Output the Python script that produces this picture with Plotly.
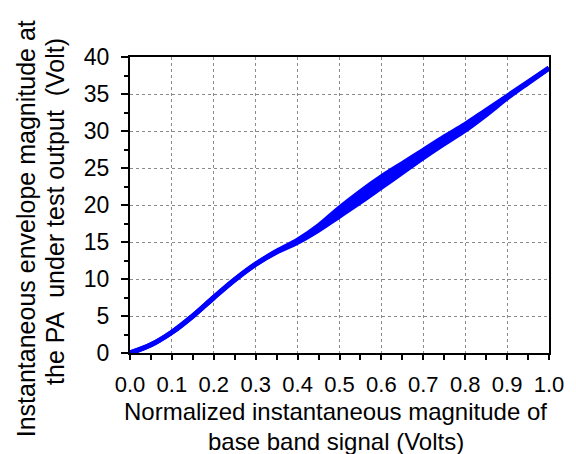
import plotly.graph_objects as go

# Normalized instantaneous magnitude (x) and envelope band (upper / lower), Volt
x_vals = [0.0, 0.05, 0.1, 0.15, 0.2, 0.25, 0.3, 0.35, 0.4, 0.45, 0.5,
          0.55, 0.6, 0.65, 0.7, 0.75, 0.8, 0.85, 0.9, 0.95, 1.0]
upper_vals = [0.0, 1.1, 2.8, 5.0, 7.5, 9.9, 12.0, 13.75, 15.25, 17.2, 19.6,
              21.8, 23.8, 25.6, 27.4, 29.2, 30.9, 32.8, 34.7, 36.6, 38.5]
lower_vals = [0.0, 1.1, 2.8, 5.0, 7.5, 9.9, 12.0, 13.65, 14.95, 16.6, 18.5,
              20.4, 22.4, 24.4, 26.4, 28.3, 30.1, 32.2, 34.45, 36.5, 38.5]

x_ticks = [0.0, 0.1, 0.2, 0.3, 0.4, 0.5, 0.6, 0.7, 0.8, 0.9, 1.0]
y_ticks = [0, 5, 10, 15, 20, 25, 30, 35, 40]

BLUE = "#0000ff"
FONT = "Liberation Sans, Arial, sans-serif"

fig = go.Figure()
fig.add_trace(go.Scatter(x=x_vals, y=lower_vals, mode="lines",
                         line=dict(color=BLUE, width=5, shape="spline", smoothing=1.0),
                         showlegend=False, hoverinfo="skip"))
fig.add_trace(go.Scatter(x=x_vals, y=upper_vals, mode="lines",
                         line=dict(color=BLUE, width=5, shape="spline", smoothing=1.0),
                         fill="tonexty", fillcolor=BLUE,
                         showlegend=False, hoverinfo="skip"))

W, H = 576, 454
L, R, T, B = 130, 22, 57, 101
pw, ph = W - L - R, H - T - B

def px_to_paper_x(px):
    return (px - L) / pw

def px_to_paper_y(py):
    return (H - B - py) / ph

fig.update_layout(
    width=W, height=H,
    margin=dict(l=L, r=R, t=T, b=B, pad=0),
    paper_bgcolor="white", plot_bgcolor="white",
    font=dict(family=FONT, size=22, color="black"),
    xaxis=dict(range=[0, 1], tickvals=x_ticks, tickformat=".1f",
               ticks="outside", ticklen=5, tickwidth=2, tickcolor="black",
               minor=dict(dtick=0.05, ticks="outside", ticklen=5, tickwidth=2,
                          tickcolor="black", showgrid=False),
               showgrid=True, gridcolor="#8a8a8a", griddash="dot", gridwidth=1,
               showline=True, linecolor="black", linewidth=2, mirror=True,
               zeroline=False, ticklabelstandoff=6,
               tickfont=dict(family=FONT, size=22, color="black")),
    yaxis=dict(range=[0, 40], tickvals=y_ticks,
               ticks="outside", ticklen=7, tickwidth=2, tickcolor="black",
               minor=dict(dtick=2.5, ticks="outside", ticklen=4, tickwidth=2,
                          tickcolor="black", showgrid=False),
               showgrid=True, gridcolor="#8a8a8a", griddash="dot", gridwidth=1,
               showline=True, linecolor="black", linewidth=2, mirror=True,
               zeroline=False, ticklabelstandoff=7,
               tickfont=dict(family=FONT, size=23, color="black")),
    annotations=[
        dict(text="Instantaneous envelope magnitude at", textangle=-90,
             xref="paper", yref="paper", x=px_to_paper_x(25), y=px_to_paper_y(229),
             xanchor="center", yanchor="middle", showarrow=False,
             font=dict(family=FONT, size=25, color="black")),
        dict(text="the PA\u00a0 under test output\u00a0 (Volt)", textangle=-90,
             xref="paper", yref="paper", x=px_to_paper_x(54), y=px_to_paper_y(211),
             xanchor="center", yanchor="middle", showarrow=False,
             font=dict(family=FONT, size=25, color="black")),
        dict(text="Normalized instantaneous magnitude of",
             xref="paper", yref="paper", x=px_to_paper_x(338), y=px_to_paper_y(411),
             xanchor="center", yanchor="middle", showarrow=False,
             font=dict(family=FONT, size=24, color="black")),
        dict(text="base band signal (Volts)",
             xref="paper", yref="paper", x=px_to_paper_x(338), y=px_to_paper_y(441),
             xanchor="center", yanchor="middle", showarrow=False,
             font=dict(family=FONT, size=24, color="black")),
    ],
)

fig.write_html("out.html")
